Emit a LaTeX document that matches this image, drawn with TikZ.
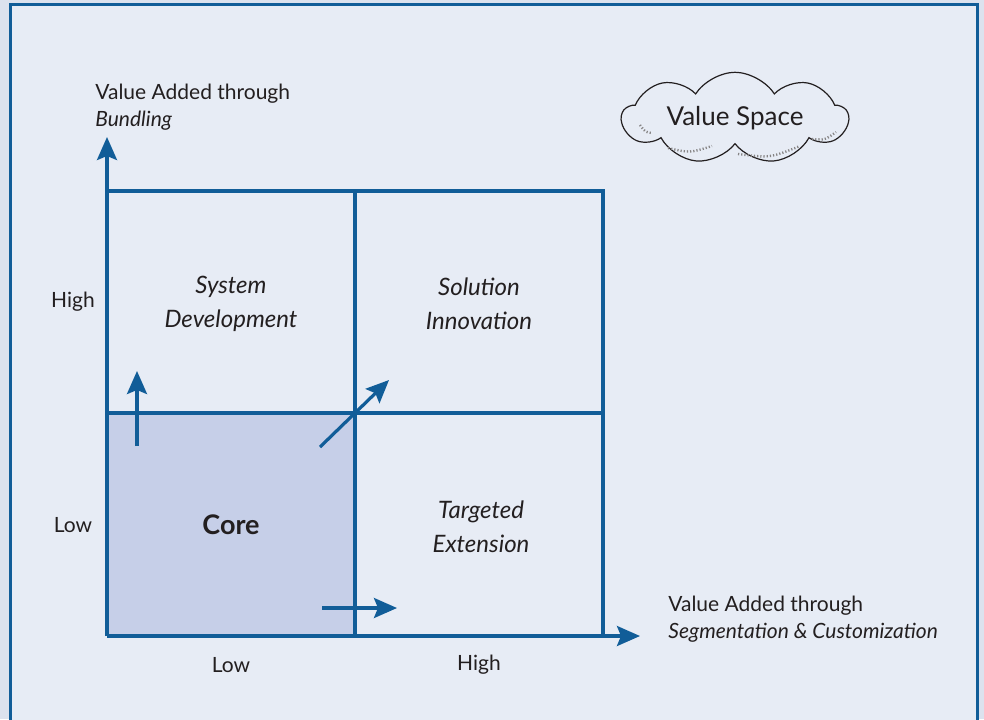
\documentclass[tikz,border=0pt]{standalone}
\usepackage{fontspec}
\setmainfont{Lato}
\usetikzlibrary{arrows.meta,shapes.symbols}
\definecolor{frameblue}{HTML}{115D98}
\definecolor{innerbg}{HTML}{E7ECF5}
\definecolor{outerbg}{HTML}{DCE2EE}
\definecolor{corefill}{HTML}{C6CFE8}
\definecolor{textgray}{HTML}{231F20}

\tikzset{
	gridline/.style={line width=2pt, draw=frameblue},
	axisarrow/.style={line width=1.6pt, draw=frameblue, -{Stealth[length=11.5pt,width=10pt,inset=2pt]}},
	flowarrow/.style={line width=1.6pt, draw=frameblue, -{Stealth[length=11.5pt,width=10pt,inset=2pt]}},
	axislabel/.style={inner sep=0pt, align=left, text=textgray, font=\fontsize{10.5}{13.5}\selectfont},
	ticklabel/.style={inner sep=0pt, text=textgray, font=\fontsize{10.5}{13.5}\selectfont},
	quadlabel/.style={inner sep=0pt, align=center, text=textgray, font=\fontsize{12}{17}\selectfont\itshape},
	hatch/.style={draw=textgray!55, line width=1.2pt, dash pattern=on 0.6pt off 1pt}
}

\begin{document}
\begin{tikzpicture}[x=0.5pt,y=-0.5pt]
			%%%%% START %%%%%
			
			\useasboundingbox (0,0) rectangle (984,719);
			\fill[outerbg] (0,0) rectangle (984,719);
			\draw[line width=1.5pt, draw=frameblue, fill=innerbg] (10,4) rectangle (977,745);
			
			% grid corners
			\coordinate (O) at (107,636);
			\coordinate (midL) at (107,413);
			\coordinate (topL) at (107,191);
			\coordinate (midB) at (355,636);
			\coordinate (midT) at (355,191);
			\coordinate (midR) at (603,413);
			\coordinate (topR) at (603,191);
			\coordinate (botR) at (603,636);
			
			\fill[corefill] (midL) rectangle (midB);
			\draw[gridline] (topL) -- (topR) -- (botR);
			\draw[gridline] (midT) -- (midB);
			\draw[gridline] (midL) -- (midR);
			
			% axes
			\coordinate (ytip) at (107,137);
			\coordinate (xtip) at (640,636);
			\draw[axisarrow] (O) -- (ytip);
			\draw[axisarrow] (O) -- (xtip);
			
			\node[axislabel, anchor=north west] (ylab) at (95,84) {Value Added through\\\textit{Bundling}};
			\node[axislabel, anchor=north west] (xlab) at (668,596) {Value Added through\\\textit{Segmentation \& Customization}};
			
			\node[ticklabel] (yhigh) at (73,302) {High};
			\node[ticklabel] (ylow) at (73,525) {Low};
			\node[ticklabel] (xlow) at (231,665) {Low};
			\node[ticklabel] (xhigh) at (479,665) {High};
			
			% quadrants
			\node[quadlabel] (sysdev) at (231,304) {System\\Development};
			\node[quadlabel] (solinn) at (479,304) {Solution\\Innovation};
			\node[quadlabel] (tarext) at (481,527) {Targeted\\Extension};
			\node[inner sep=0pt, text=textgray, font=\fontsize{13.5}{16}\selectfont\bfseries] (core) at (231,525) {Core};
			
			% moves out of the core
			\coordinate (upS) at (137,446);
			\coordinate (upE) at (137,371);
			\coordinate (diagS) at (320,447);
			\coordinate (diagE) at (389,380);
			\coordinate (rightS) at (322,608);
			\coordinate (rightE) at (397,608);
			\draw[flowarrow] (upS) -- (upE);
			\draw[flowarrow] (diagS) -- (diagE);
			\draw[flowarrow] (rightS) -- (rightE);
			
			% value space cloud
			\node[cloud, cloud puffs=9, cloud puff arc=115, aspect=3.3, draw=textgray, line width=0.6pt, fill=innerbg,
				minimum width=113pt, minimum height=39pt, inner sep=0pt, text=textgray,
				font=\fontsize{13}{15}\selectfont] (space) at (735,118) {Value Space};
			\draw[hatch] (640,125) .. controls (645,132) .. (652,133);
			\draw[hatch] (668,148) .. controls (690,153) .. (712,146);
			\draw[hatch] (738,154) .. controls (770,158) .. (800,146);
			\draw[hatch] (812,139) .. controls (825,140) .. (836,132);
			
			%%%%% END %%%%%
		\end{tikzpicture}
\end{document}
